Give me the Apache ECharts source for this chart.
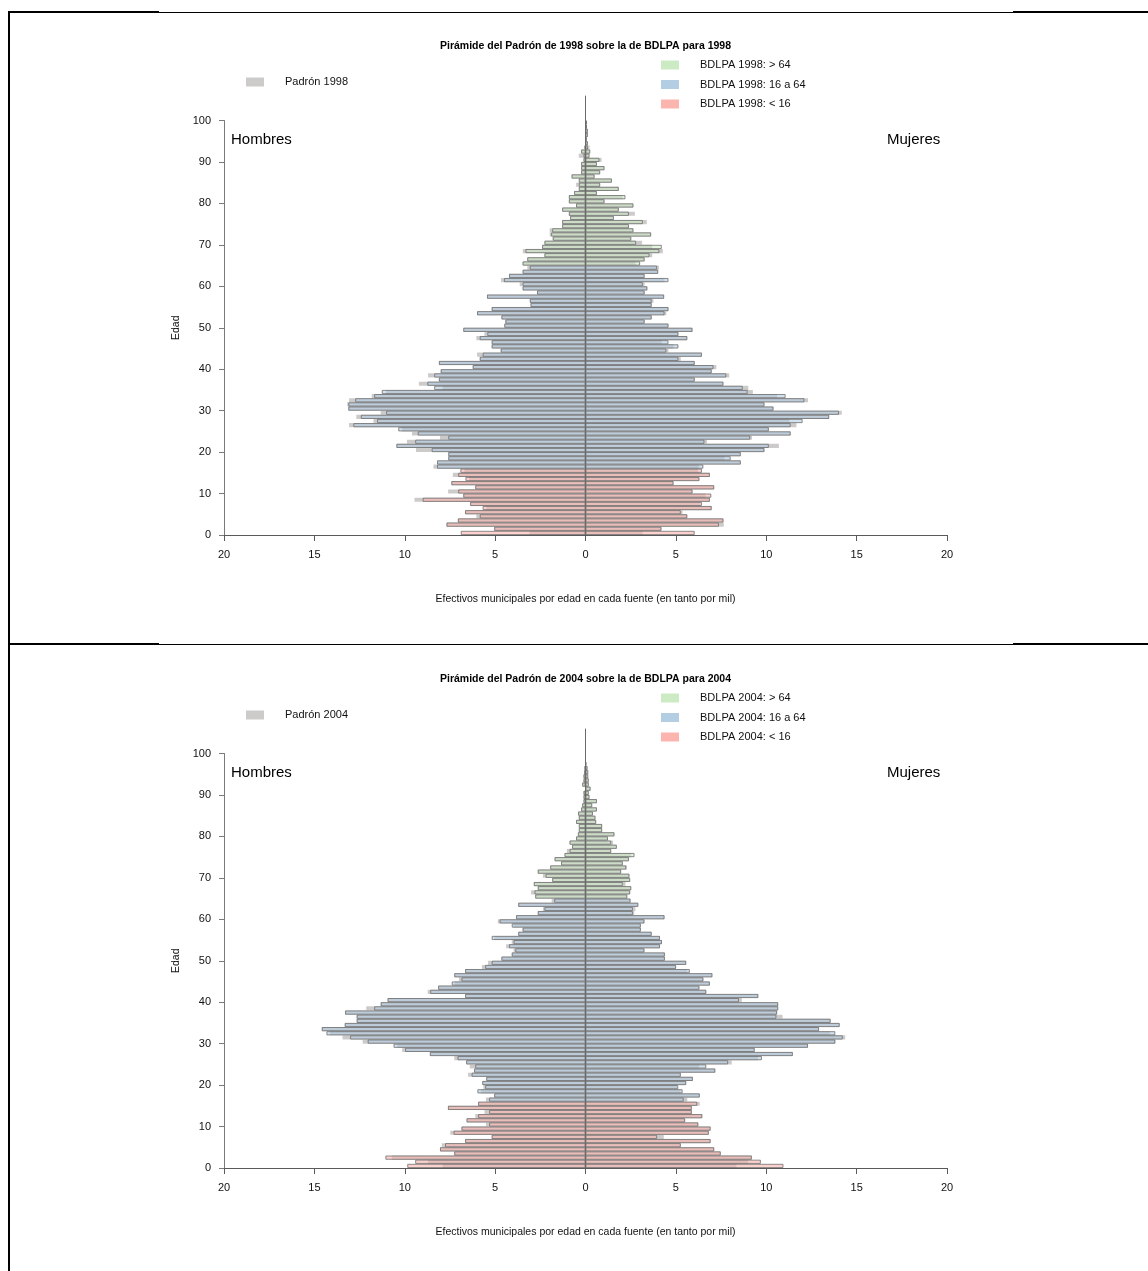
<!DOCTYPE html>
<html><head><meta charset="utf-8">
<script src="https://cdn.jsdelivr.net/npm/echarts@6/dist/echarts.min.js"></script>
<style>html,body{margin:0;padding:0;background:#fff}#c{width:1148px;height:1271px}</style>
</head><body><div id="c"></div>
<script>
// ---- categories ----
const ages = Array.from({length: 100}, (_, i) => i);
const xTickMin = -20, xTickMax = 20, xTickStep = 5;
const yTickMin = 0, yTickMax = 100, yTickStep = 10;
const years = ['1998', '2004'];
const groupNames = ['> 64', '16 a 64', '< 16'];

// ---- 1998 (per mil) ----
const bdlpaMen1998 = [
 6.9,5.05,7.69,7.06,5.85,6.66,5.69,6.38,9.01,6.76,
 7.04,6.10,7.42,6.64,7.04,6.92,8.21,8.21,7.59,7.59,
 8.51,10.46,9.42,7.59,9.28,10.36,12.84,11.53,12.43,11.03,
 13.12,13.12,12.74,11.69,11.27,8.37,8.75,8.11,8.37,8.01,
 6.24,8.11,5.85,5.69,4.69,5.19,5.19,5.85,5.43,6.76,
 4.49,4.43,4.65,6.0,5.19,3.04,3.08,5.45,2.68,3.48,
 3.48,4.51,4.23,3.48,3.08,3.48,3.22,2.27,3.32,2.40,
 2.27,1.81,1.90,1.84,1.29,1.29,0.85,0.92,1.29,0.52,
 0.92,0.92,0.63,0.37,0.37,0.37,0.77,0.24,0.24,0.24,
 0.11,0.11,0.24,0.05,0,0,0,0,0,0];
const padronMen1998 = [
 3.1,5.05,7.69,7.06,6.04,6.66,5.49,6.38,9.46,6.76,
 7.6,6.10,7.42,6.44,7.34,6.70,8.41,8.21,7.59,7.59,
 9.38,10.46,9.88,8.05,9.6,10.16,13.08,11.73,12.68,11.33,
 13.12,13.18,13.08,11.83,11.03,7.91,9.22,8.11,8.71,8.01,
 6.24,8.11,5.85,6.0,4.69,5.19,5.19,6.04,5.59,6.76,
 4.49,4.43,4.65,6.0,5.19,3.04,3.08,5.45,2.68,3.48,
 3.64,4.67,4.23,3.48,3.22,3.48,3.22,2.27,3.47,2.40,
 2.27,1.81,1.98,1.98,1.29,1.29,0.85,0.92,1.29,0.52,
 0.92,0.92,0.63,0.37,0.52,0.37,0.77,0.24,0.24,0.24,
 0.11,0.37,0.24,0.05,0,0,0,0,0,0];
const bdlpaWomen1998 = [
 6.04,4.2,7.38,7.63,5.63,5.27,6.98,6.44,6.88,6.96,
 5.92,7.12,4.87,6.3,6.88,6.44,6.52,8.59,8.03,8.59,
 9.9,10.14,6.58,9.11,11.35,10.14,11.35,12.01,13.48,14.02,
 10.4,9.9,12.11,11.07,8.97,8.70,7.63,6.04,7.79,6.98,
 7.08,6.04,5.14,6.44,4.47,5.14,4.59,5.63,5.14,5.92,
 4.59,3.27,3.66,4.37,4.59,3.66,3.66,4.35,3.27,3.42,
 3.17,4.59,3.27,4.02,3.96,3.02,3.27,3.54,4.09,4.22,
 2.80,2.53,3.63,2.65,2.40,3.17,1.57,2.40,1.84,2.65,
 1.05,2.21,0.63,1.84,0.81,1.46,0.50,0.81,1.05,0.63,
 0.77,0.22,0.26,0.13,0.13,0.07,0.13,0.13,0.08,0.08];
const padronWomen1998 = [
 3.16,4.2,7.65,7.63,5.63,5.37,6.98,6.34,6.88,6.64,
 5.92,7.12,4.87,6.3,6.88,6.22,6.26,8.59,7.69,8.59,
 9.9,10.7,6.72,9.21,11.35,10.14,11.67,11.28,13.48,14.18,
 10.4,9.9,12.31,10.60,9.26,9.01,7.63,6.04,7.95,6.98,
 7.24,6.04,5.27,6.44,4.59,4.87,4.21,5.63,5.14,5.92,
 4.59,3.27,3.66,4.47,4.59,3.66,3.76,4.35,3.27,3.42,
 3.27,4.37,3.27,4.02,4.06,2.76,3.27,3.69,4.28,3.69,
 3.13,2.53,3.63,2.65,2.40,3.39,1.57,2.73,1.84,2.65,
 1.05,2.06,0.63,1.84,0.81,1.46,0.50,0.81,1.05,0.63,
 0.89,0.22,0.26,0.22,0.13,0.07,0.13,0.13,0.08,0.08];

// ---- 2004 (per mil) ----
const bdlpaMen2004 = [
 9.86,9.42,11.07,7.26,8.05,7.77,6.66,5.19,7.30,6.86,
 5.33,6.58,5.94,5.33,7.61,5.94,5.33,5.05,5.98,5.55,
 5.71,5.49,6.30,6.16,6.10,6.60,7.08,8.61,9.98,10.62,
 12.05,13.02,14.33,14.59,13.32,12.66,12.66,13.30,11.69,11.33,
 10.95,6.66,8.59,8.15,7.40,6.86,7.26,6.66,5.55,5.19,
 4.65,4.08,3.88,4.23,3.98,5.19,3.72,3.48,4.08,4.75,
 3.84,2.64,2.27,3.72,1.73,2.78,2.82,2.64,2.86,1.84,
 2.21,2.64,1.95,1.35,1.71,1.16,0.88,0.74,0.88,0.52,
 0.42,0.37,0.37,0.52,0.37,0.41,0.24,0.18,0.11,0.11,
 0.11,0,0.18,0.11,0.11,0.07,0.05,0,0,0];
const padronMen2004 = [
 7.91,8.71,10.72,7.26,8.05,7.95,6.66,5.19,7.48,6.86,
 5.51,6.58,6.10,5.59,7.61,5.94,5.51,5.05,5.79,5.65,
 5.71,5.49,6.5,6.16,6.4,6.60,7.26,8.61,10.14,10.42,
 12.33,13.44,14.14,14.59,13.32,12.66,12.66,13.30,12.13,11.33,
 10.95,6.66,8.73,8.15,7.24,7.0,7.26,6.66,5.73,5.39,
 4.65,4.08,3.98,4.39,4.08,5.05,3.72,3.48,3.98,4.85,
 3.84,2.64,2.35,3.72,1.87,2.78,3.01,2.64,2.86,1.84,
 2.36,2.64,1.95,1.35,1.71,1.16,1.03,0.74,0.88,0.52,
 0.42,0.37,0.37,0.52,0.37,0.41,0.24,0.18,0.11,0.11,
 0.11,0,0.18,0.11,0.11,0.07,0.05,0,0,0];
const bdlpaWomen2004 = [
 10.95,9.70,9.20,7.48,7.12,5.27,6.92,3.96,6.82,6.92,
 6.24,5.51,6.46,5.88,5.88,6.18,5.43,6.32,5.37,5.13,
 5.57,5.94,5.27,7.18,6.68,7.89,9.76,11.47,9.36,12.31,
 13.82,14.23,13.82,12.92,14.06,13.56,10.56,10.60,10.66,10.66,
 8.49,9.56,6.68,6.30,6.88,6.52,7.02,5.77,5.01,5.57,
 4.39,4.39,3.26,4.12,4.23,4.12,3.66,3.06,3.06,3.26,
 4.37,2.62,2.62,2.92,2.49,2.31,2.47,2.53,2.06,2.47,
 2.43,1.97,2.25,2.06,2.40,2.71,1.42,1.73,1.42,1.24,
 1.60,0.92,0.92,0.59,0.55,0.41,0.63,0.37,0.63,0.22,
 0.18,0.28,0.18,0.18,0.15,0.15,0.11,0.04,0,0];
const padronWomen2004 = [
 8.35,8.99,9.20,7.48,7.12,5.27,6.92,4.33,6.82,6.92,
 6.24,5.51,6.46,5.88,5.88,6.32,5.63,6.32,5.25,5.07,
 5.57,5.94,5.27,7.18,6.28,8.09,9.54,11.47,9.36,12.31,
 13.82,14.37,13.52,12.92,14.06,13.56,10.9,10.60,10.66,10.66,
 8.65,9.56,6.68,6.30,6.88,6.52,7.02,5.63,5.01,5.57,
 4.39,4.39,3.26,4.12,4.23,4.12,3.66,3.06,3.06,3.26,
 4.37,2.70,2.76,2.92,2.49,2.31,2.47,2.53,2.21,2.47,
 2.43,1.97,2.29,2.06,2.40,2.53,1.42,1.73,1.52,1.24,
 1.60,0.92,0.92,0.59,0.55,0.41,0.63,0.37,0.63,0.22,
 0.18,0.28,0.18,0.18,0.15,0.15,0.11,0.04,0,0];

// ---- styling / layout ----
const FONT = '"Liberation Sans", Arial, Helvetica, sans-serif';
const GRAY = '#cdcaca';
const GROUP_COLORS = {
  '> 64':   {legend: '#ccebc5', bar: 'rgba(204,235,197,0.55)', test: a => a > 64},
  '16 a 64':{legend: '#b3cde3', bar: 'rgba(179,205,227,0.58)', test: a => a >= 16 && a <= 64},
  '< 16':   {legend: '#fbb4ae', bar: 'rgba(251,180,174,0.6)', test: a => a < 16}
};
const BORDER = 'rgba(105,105,105,0.85)';
const PANEL_SHIFT = 633;
const panels = [
  {year: years[0], bm: bdlpaMen1998, bw: bdlpaWomen1998, pm: padronMen1998, pw: padronWomen1998},
  {year: years[1], bm: bdlpaMen2004, bw: bdlpaWomen2004, pm: padronMen2004, pw: padronWomen2004}
];

const nz = v => (v > 0 ? v : '-');
const grid = [], xAxis = [], yAxis = [], series = [], legend = [];
panels.forEach((p, gi) => {
  const off = gi * PANEL_SHIFT;
  grid.push({left: 224, top: 120.5 + off, width: 723, height: 414.5, containLabel: false});
  xAxis.push({
    type: 'value', gridIndex: gi, min: xTickMin, max: xTickMax, interval: xTickStep,
    axisLine: {onZero: false, lineStyle: {color: '#5a5a5a', width: 1}},
    axisTick: {length: 6, lineStyle: {color: '#5a5a5a'}},
    axisLabel: {formatter: v => String(Math.abs(v)), color: '#111', fontSize: 11, fontFamily: FONT, margin: 14},
    splitLine: {show: false},
    name: 'Efectivos municipales por edad en cada fuente (en tanto por mil)',
    nameLocation: 'middle', nameGap: 59,
    nameTextStyle: {color: '#111', fontSize: 10.5, fontFamily: FONT}
  });
  yAxis.push({
    type: 'category', gridIndex: gi, data: ages, boundaryGap: true, show: false,
    axisLine: {onZero: false}
  });
  yAxis.push({
    type: 'value', gridIndex: gi, min: yTickMin, max: yTickMax, interval: yTickStep, position: 'left',
    axisLine: {show: true, onZero: false, lineStyle: {color: '#7a7a7a', width: 1}},
    axisTick: {show: true, length: 5, lineStyle: {color: '#7a7a7a'}},
    axisLabel: {color: '#111', fontSize: 11, fontFamily: FONT, margin: 13},
    splitLine: {show: false},
    name: 'Edad', nameLocation: 'middle', nameGap: 33, nameRotate: 90,
    nameTextStyle: {color: '#111', fontSize: 10.5, fontFamily: FONT}
  });
  const yIdx = gi * 2;
  const base = {type: 'bar', xAxisIndex: gi, yAxisIndex: yIdx, barWidth: '100%', barGap: '-100%',
                silent: true, animation: false};
  const pname = 'Padrón ' + p.year;
  series.push(Object.assign({}, base, {name: pname, data: p.pm.map(v => v > 0 ? -v : '-'),
    itemStyle: {color: GRAY, borderWidth: 0}}));
  series.push(Object.assign({}, base, {name: pname, data: p.pw.map(nz),
    itemStyle: {color: GRAY, borderWidth: 0}}));
  groupNames.forEach(g => {
    const c = GROUP_COLORS[g];
    const sname = 'BDLPA ' + p.year + ': ' + g;
    const st = {color: c.bar, borderColor: BORDER, borderWidth: 0.9};
    series.push(Object.assign({}, base, {name: sname, itemStyle: st,
      data: ages.map(a => (c.test(a) && p.bm[a] > 0) ? -p.bm[a] : '-')}));
    series.push(Object.assign({}, base, {name: sname, itemStyle: st,
      data: ages.map(a => (c.test(a) && p.bw[a] > 0) ? p.bw[a] : '-')}));
  });
  const legText = {color: '#111', fontSize: 11, fontFamily: FONT, padding: [0, 0, 0, 16], lineHeight: 14};
  legend.push({
    left: 246, top: 75 + off, padding: 0, icon: 'rect', itemWidth: 18, itemHeight: 9,
    selectedMode: false, textStyle: legText,
    data: [{name: pname, itemStyle: {color: GRAY, borderWidth: 0}}]
  });
  legend.push({
    left: 661, top: 58 + off, padding: 0, orient: 'vertical', icon: 'rect', itemWidth: 18, itemHeight: 9,
    itemGap: 5.5, selectedMode: false, textStyle: legText,
    data: groupNames.map(g => ({name: 'BDLPA ' + p.year + ': ' + g,
      itemStyle: {color: GROUP_COLORS[g].legend, borderWidth: 0, opacity: 1}}))
  });
});

const chart = echarts.init(document.getElementById('c'), null, {renderer: 'canvas'});
chart.setOption({animation: false, backgroundColor: '#fff', grid, xAxis, yAxis, series, legend});

// decorations (frame, titles, side labels, centre line)
const graphic = [];
const lineEl = (x1, y1, x2, y2, w) => ({type: 'line', silent: true,
  shape: {x1, y1, x2, y2}, style: {stroke: '#000', lineWidth: w}});
graphic.push(lineEl(9, 11, 9, 1271, 2));
[12, 644].forEach(y => {
  graphic.push(lineEl(8, y, 159, y, 2));
  graphic.push(lineEl(159, y + 0.5, 1013, y + 0.5, 1));
  graphic.push(lineEl(1013, y, 1148, y, 2));
});
panels.forEach((p, gi) => {
  const off = gi * PANEL_SHIFT;
  const top = chart.convertToPixel({xAxisIndex: gi, yAxisIndex: gi * 2 + 1}, [0, 106]);
  const bot = chart.convertToPixel({xAxisIndex: gi, yAxisIndex: gi * 2 + 1}, [0, 0]);
  graphic.push({type: 'line', silent: true, z: 10,
    shape: {x1: top[0], y1: top[1], x2: bot[0], y2: bot[1]},
    style: {stroke: '#6a6a6a', lineWidth: 1}});
  graphic.push({type: 'text', silent: true, x: top[0], y: 46 + off,
    style: {text: 'Pirámide del Padrón de ' + p.year + ' sobre la de BDLPA para ' + p.year,
      font: 'bold 10.5px ' + FONT, fill: '#000', align: 'center', verticalAlign: 'middle'}});
  graphic.push({type: 'text', silent: true, x: 231, y: 140 + off,
    style: {text: 'Hombres', font: '15px ' + FONT, fill: '#000', align: 'left', verticalAlign: 'middle'}});
  graphic.push({type: 'text', silent: true, x: 887, y: 140 + off,
    style: {text: 'Mujeres', font: '15px ' + FONT, fill: '#000', align: 'left', verticalAlign: 'middle'}});
});
chart.setOption({graphic});
</script></body></html>
